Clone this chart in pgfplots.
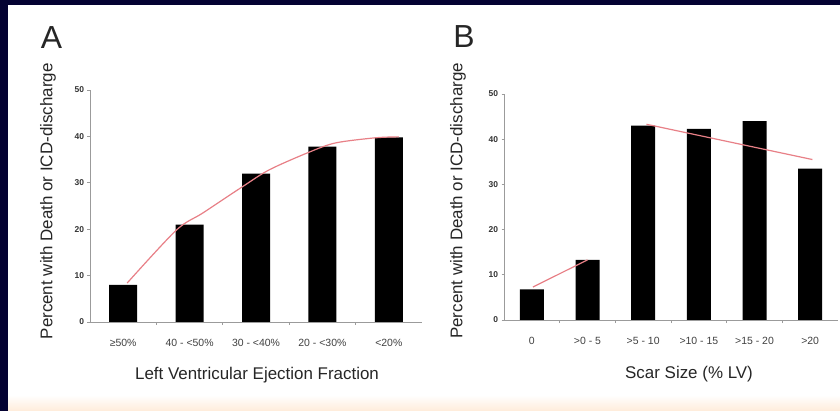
\documentclass[border=0pt]{standalone}
\usepackage{fontspec}
\setmainfont{Liberation Sans}
\usepackage{pgfplots}
\pgfplotsset{compat=1.18}
\definecolor{navy}{RGB}{4,2,50}
\definecolor{trend}{RGB}{232,128,135}
\definecolor{axgray}{RGB}{155,155,155}
\definecolor{peach}{RGB}{255,236,218}
\pgfplotsset{
  panel/.style={
    scale only axis, anchor=south west,
    ymin=0, ymax=50, ytick={0,10,...,50},
    axis x line=bottom, axis y line=left,
    axis line style={draw=axgray, line width=0.9bp, -},
    tick style={draw=axgray, line width=0.7bp},
    tick align=outside,
    major tick length=2.5bp,
    minor tick length=3bp,
    every major x tick/.style={draw=none},
    /pgf/number format/assume math mode=true,
    yticklabel style={font=\fontsize{8.5}{9}\selectfont\bfseries, text=black!80},
    xticklabel style={font=\fontsize{10.5}{12}\selectfont, text=black!75, anchor=center, yshift=-18bp},
    label style={font=\fontsize{17}{20}\selectfont, text=black!85},
    ybar, bar shift=0pt,
  }
}
\begin{document}
\begin{tikzpicture}
\fill[navy] (0bp,0bp) rectangle (840bp,411bp);
\fill[white] (8bp,0bp) rectangle (840bp,406bp);
\shade[top color=white, bottom color=peach] (8bp,0bp) rectangle (840bp,16bp);
\node[font=\fontsize{32}{34}\selectfont, text=black!85] at (51.5bp,373.5bp) {A};
\node[font=\fontsize{32}{34}\selectfont, text=black!85] at (464bp,374.5bp) {B};

\begin{axis}[panel, at={(90bp,89bp)}, width=332bp, height=232bp,
  xmin=-0.5, xmax=4.5,
  xtick={0,1,2,3,4},
  xticklabels={≥50\%, 40 - <50\%, 30 - <40\%, 20 - <30\%, <20\%},
  minor xtick={0.5,1.5,2.5,3.5},
  xlabel={Left Ventricular Ejection Fraction},
  ylabel={Percent with Death or ICD-discharge},
  xlabel style={at={(axis description cs:0.503,-0.23)}, anchor=center},
  ylabel style={at={(axis description cs:-0.1265,0.52)}, anchor=center},
  bar width=28bp]
\addplot[fill=black, draw=none] coordinates {(0,8) (1,21) (2,32) (3,37.8) (4,39.8)};
\addplot[sharp plot, smooth, trend, line width=1.2bp, forget plot] coordinates {
 (0.06,8.4) (0.8,19.8) (1.2,23.5) (1.79,29.1) (2.2,32.8) (2.8,36.6) (3.2,38.6) (3.8,39.7) (4.15,39.9)};
\end{axis}

\begin{axis}[panel, at={(504bp,91bp)}, width=334bp, height=226bp,
  xmin=-0.5, xmax=5.5,
  xtick={0,1,2,3,4,5},
  xticklabels={0, >0 - 5, >5 - 10, >10 - 15, >15 - 20, >20},
  minor xtick={0.5,1.5,2.5,3.5,4.5},
  xlabel={Scar Size (\% LV)},
  ylabel={Percent with Death or ICD-discharge},
  xlabel style={at={(axis description cs:0.554,-0.24)}, anchor=center},
  ylabel style={at={(axis description cs:-0.138,0.527)}, anchor=center},
  bar width=24bp]
\addplot[fill=black, draw=none] coordinates {(0,6.8) (1,13.3) (2,43) (3,42.3) (4,44) (5,33.5)};
\addplot[sharp plot, trend, line width=1.2bp, forget plot] coordinates {(0.02,7.3) (1,13.3)};
\addplot[sharp plot, trend, line width=1.2bp, forget plot] coordinates {(2.06,43.3) (5.04,35.5)};
\end{axis}
\end{tikzpicture}
\end{document}
